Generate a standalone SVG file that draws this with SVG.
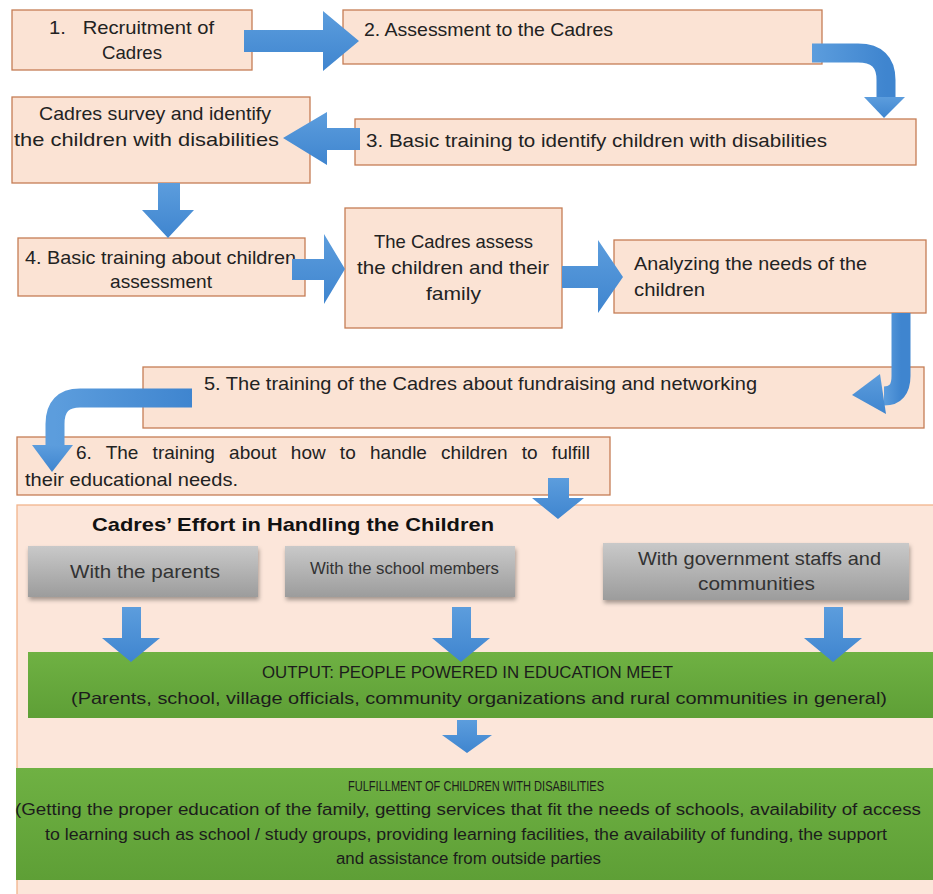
<svg xmlns="http://www.w3.org/2000/svg" width="933" height="894" viewBox="0 0 933 894">
<defs>
<linearGradient id="blue" x1="0" y1="0" x2="0" y2="1"><stop offset="0" stop-color="#5C9DDD"/><stop offset="1" stop-color="#3F85CF"/></linearGradient>
<linearGradient id="blueh" x1="0" y1="0" x2="1" y2="0"><stop offset="0" stop-color="#5C9DDD"/><stop offset="1" stop-color="#3F85CF"/></linearGradient>
<linearGradient id="gray" x1="0" y1="0" x2="0" y2="1"><stop offset="0" stop-color="#C9C9C9"/><stop offset="1" stop-color="#9C9C9C"/></linearGradient>
<linearGradient id="green" x1="0" y1="0" x2="0" y2="1"><stop offset="0" stop-color="#6FB143"/><stop offset="1" stop-color="#5E9F36"/></linearGradient>
<filter id="shadow" x="-5%" y="-10%" width="112%" height="130%"><feDropShadow dx="1" dy="3" stdDeviation="2" flood-color="#000" flood-opacity="0.35"/></filter>
</defs>
<style>
.box{fill:#FBE3D4;stroke:#C57D55;stroke-width:1.3}
.big{fill:#FCE6DA;stroke:#F2B48C;stroke-width:1.3}
.gbox{fill:url(#gray);filter:url(#shadow)}
.green{fill:url(#green)}
text{font-family:"Liberation Sans",Arial,sans-serif;fill:#222}
.t{font-size:19px}
.gt{font-size:19px;fill:#333}
.gs{font-size:16px;fill:#333}
.ot{font-size:16.5px;fill:#1c1c1c}
.ft{font-size:16px;fill:#1c1c1c}
.fh{font-size:15px;fill:#1c1c1c}
.title{font-size:19px;font-weight:bold;fill:#111}
.arr{fill:url(#blue)}
.arrs{fill:none;stroke:url(#blueh);stroke-width:19}
</style>

<g id="node-big"><rect class="big" x="17" y="505" width="925" height="400"/></g>

<g id="node-1"><rect class="box" x="12" y="10" width="240" height="60"/>
<text class="t" x="49" y="34" textLength="165" lengthAdjust="spacingAndGlyphs" style="white-space:pre">1.   Recruitment of</text>
<text class="t" x="102" y="59" textLength="60" lengthAdjust="spacingAndGlyphs">Cadres</text></g>

<g id="node-2"><rect class="box" x="343" y="10" width="479" height="54"/>
<text class="t" x="364" y="36" textLength="249" lengthAdjust="spacingAndGlyphs">2. Assessment to the Cadres</text></g>

<g id="node-survey"><rect class="box" x="12" y="97" width="298" height="86"/>
<text class="t" x="39" y="120" textLength="232" lengthAdjust="spacingAndGlyphs">Cadres survey and identify</text>
<text class="t" x="14" y="146" textLength="265" lengthAdjust="spacingAndGlyphs">the children with disabilities</text></g>

<g id="node-3"><rect class="box" x="355" y="119" width="561" height="46"/>
<text class="t" x="366" y="147" textLength="461" lengthAdjust="spacingAndGlyphs">3. Basic training to identify children with disabilities</text></g>

<g id="node-4"><rect class="box" x="18" y="238" width="287" height="58"/>
<text class="t" x="25" y="264" textLength="271" lengthAdjust="spacingAndGlyphs">4. Basic training about children</text>
<text class="t" x="110" y="288" textLength="102" lengthAdjust="spacingAndGlyphs">assessment</text></g>

<g id="node-assess"><rect class="box" x="345" y="208" width="217" height="120"/>
<text class="t" x="374" y="248" textLength="159" lengthAdjust="spacingAndGlyphs">The Cadres assess</text>
<text class="t" x="357" y="274" textLength="192" lengthAdjust="spacingAndGlyphs">the children and their</text>
<text class="t" x="426" y="300" textLength="55" lengthAdjust="spacingAndGlyphs">family</text></g>

<g id="node-analyze"><rect class="box" x="614" y="240" width="312" height="73"/>
<text class="t" x="634" y="270" textLength="233" lengthAdjust="spacingAndGlyphs">Analyzing the needs of the</text>
<text class="t" x="634" y="296" textLength="71" lengthAdjust="spacingAndGlyphs">children</text></g>

<g id="node-5"><rect class="box" x="143" y="367" width="781" height="61"/>
<text class="t" x="204" y="390" textLength="553" lengthAdjust="spacingAndGlyphs">5. The training of the Cadres about fundraising and networking</text></g>

<g id="node-6"><rect class="box" x="17" y="437" width="593" height="58"/>
<text class="t" x="76" y="459" style="word-spacing:8.9px">6. The training about how to handle children to fulfill</text>
<text class="t" x="25" y="486" textLength="213" lengthAdjust="spacingAndGlyphs">their educational needs.</text></g>

<g id="node-title"><text class="title" x="92" y="531" textLength="402" lengthAdjust="spacingAndGlyphs">Cadres’ Effort in Handling the Children</text></g>

<g id="node-parents"><rect class="gbox" x="28" y="546" width="230" height="51"/>
<text class="gt" x="70" y="578" textLength="150" lengthAdjust="spacingAndGlyphs">With the parents</text></g>

<g id="node-school"><rect class="gbox" x="285" y="546" width="230" height="51"/>
<text class="gs" x="310" y="574" textLength="189" lengthAdjust="spacingAndGlyphs">With the school members</text></g>

<g id="node-gov"><rect class="gbox" x="603" y="543" width="306" height="57"/>
<text class="gt" x="638" y="565" textLength="243" lengthAdjust="spacingAndGlyphs">With government staffs and</text>
<text class="gt" x="698" y="590" textLength="117" lengthAdjust="spacingAndGlyphs">communities</text></g>

<g id="node-output"><rect class="green" x="28" y="652" width="905" height="66"/>
<text class="ot" x="262" y="678" textLength="411" lengthAdjust="spacingAndGlyphs">OUTPUT: PEOPLE POWERED IN EDUCATION MEET</text>
<text class="ot" x="71" y="704" textLength="816" lengthAdjust="spacingAndGlyphs">(Parents, school, village officials, community organizations and rural communities in general)</text></g>

<g id="node-fulfill"><rect class="green" x="16" y="768" width="917" height="112"/>
<text class="fh" x="348" y="791" textLength="256" lengthAdjust="spacingAndGlyphs">FULFILLMENT OF CHILDREN WITH DISABILITIES</text>
<text class="ft" x="15" y="815" textLength="906" lengthAdjust="spacingAndGlyphs">(Getting the proper education of the family, getting services that fit the needs of schools, availability of access</text>
<text class="ft" x="45" y="840" textLength="842" lengthAdjust="spacingAndGlyphs">to learning such as school / study groups, providing learning facilities, the availability of funding, the support</text>
<text class="ft" x="336" y="864" textLength="265" lengthAdjust="spacingAndGlyphs">and assistance from outside parties</text></g>

<g id="connectors">
<polygon class="arr" points="244,30 323,30 323,11 359,41 323,71 323,52 244,52"/>
<path class="arrs" d="M812,53 H858 Q886,53 886,80 V99"/>
<polygon class="arr" points="864,97 905,97 884,118"/>
<polygon class="arr" points="360,128 327,128 327,112 283,138 327,165 327,150 360,150"/>
<polygon class="arr" points="158,183 180,183 180,210 194,210 168,238 142,210 158,210"/>
<polygon class="arr" points="292,259 324,259 324,234 345,269 324,304 324,280 292,280"/>
<polygon class="arr" points="562,266 598,266 598,240 623,277 598,313 598,288 562,288"/>
<path class="arrs" d="M901,313 V376 Q901,396 884,396"/>
<polygon class="arr" points="852,395 880,374 886,414"/>
<path class="arrs" d="M192,398 H80 Q55,398 55,424 V447"/>
<polygon class="arr" points="32,445 73,445 52,472"/>
<polygon class="arr" points="548,478 569,478 569,498 584,498 558,519 532,498 548,498"/>
<polygon class="arr" points="122,607 141,607 141,638 160,638 131,662 102,638 122,638"/>
<polygon class="arr" points="452,607 471,607 471,638 490,638 461,662 432,638 452,638"/>
<polygon class="arr" points="824,607 843,607 843,638 862,638 833,662 804,638 824,638"/>
<polygon class="arr" points="457,720 477,720 477,735 492,735 467,753 442,735 457,735"/>
</g>
</svg>
